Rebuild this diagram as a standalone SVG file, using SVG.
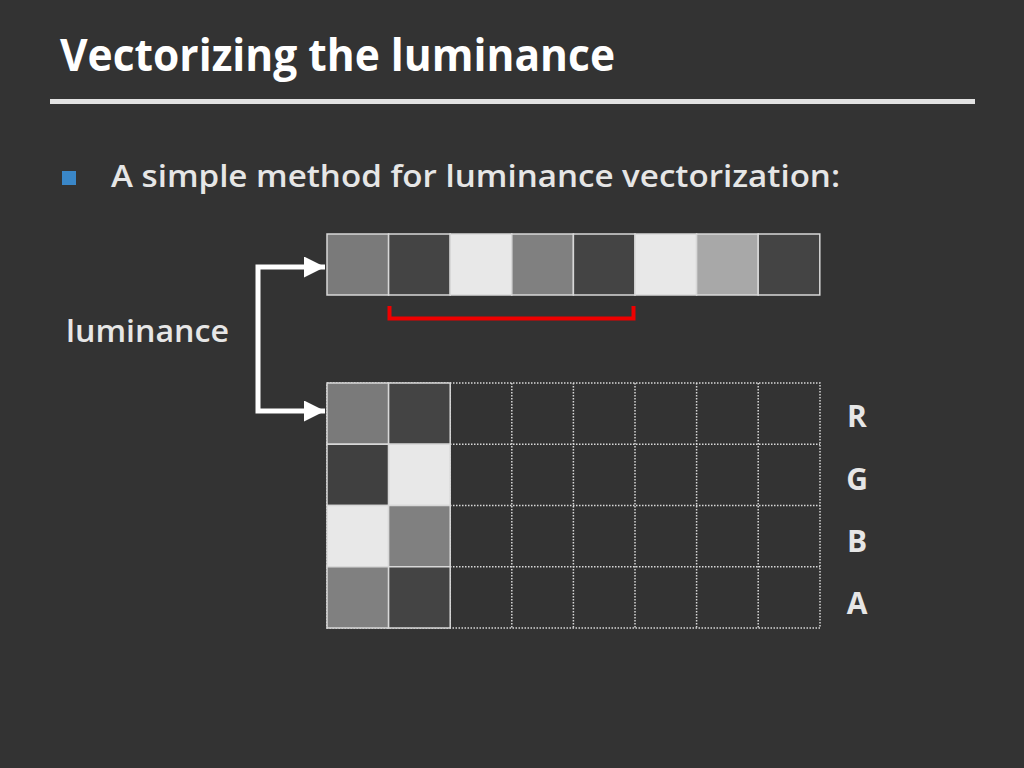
<svg xmlns="http://www.w3.org/2000/svg" width="1024" height="768" viewBox="0 0 1024 768">
<defs>
<style>
.txt{font-family:"Open Sans","Liberation Sans",sans-serif;font-weight:bold;}
.title{fill:#ffffff;font-size:44px;}
.body{fill:#e6e6e6;font-size:31px;font-weight:600;}
.lab{fill:#e6e6e6;font-size:30px;text-anchor:middle;}
.cell{stroke:#d8d8d8;stroke-width:1.5;}
.dot{fill:none;stroke:#d8d8d8;stroke-width:1.5;stroke-dasharray:1.5 1.5;}
.conn{fill:none;stroke:#ffffff;stroke-width:5;}
</style>
<marker id="ah" viewBox="0 0 10 10" refX="10" refY="5" markerWidth="4.2" markerHeight="4.2" markerUnits="strokeWidth" orient="auto-start-reverse">
<path d="M0,0 L10,5 L0,10 Z" fill="#ffffff"/>
</marker>
</defs>
<rect width="1024" height="768" fill="#333333"/>
<g id="title">
<text class="txt title" x="60" y="71" textLength="555" lengthAdjust="spacingAndGlyphs">Vectorizing the luminance</text>
<rect x="50" y="99" width="925" height="5" fill="#e2e2e2"/>
</g>
<g id="bullet">
<rect x="62" y="171" width="14" height="14" fill="#3a87c8"/>
<text class="txt body" x="111" y="187" textLength="729" lengthAdjust="spacingAndGlyphs">A simple method for luminance vectorization:</text>
</g>
<g id="luminance-label">
<text class="txt body" x="66" y="342" textLength="163" lengthAdjust="spacingAndGlyphs">luminance</text>
</g>
<g id="connectors">
<polyline class="conn" points="325,267 258,267 258,411 325,411" marker-start="url(#ah)" marker-end="url(#ah)"/>
</g>
<g id="vector-row">
<rect class="cell" x="327" y="234" width="61.6" height="61" fill="#7a7a7a"/>
<rect class="cell" x="388.6" y="234" width="61.6" height="61" fill="#444444"/>
<rect class="cell" x="450.2" y="234" width="61.6" height="61" fill="#e8e8e8"/>
<rect class="cell" x="511.8" y="234" width="61.6" height="61" fill="#808080"/>
<rect class="cell" x="573.4" y="234" width="61.6" height="61" fill="#444444"/>
<rect class="cell" x="635" y="234" width="61.6" height="61" fill="#e8e8e8"/>
<rect class="cell" x="696.6" y="234" width="61.6" height="61" fill="#a8a8a8"/>
<rect class="cell" x="758.2" y="234" width="61.6" height="61" fill="#444444"/>
</g>
<g id="bracket">
<polyline points="389.5,306 389.5,318.5 633.5,318.5 633.5,306" fill="none" stroke="#ee0000" stroke-width="4"/>
</g>
<g id="rgba-grid">
<g id="empty-cells">
<rect class="dot" x="327" y="383" width="493" height="245"/>
<line class="dot" x1="450.2" y1="383" x2="450.2" y2="628"/>
<line class="dot" x1="511.8" y1="383" x2="511.8" y2="628"/>
<line class="dot" x1="573.4" y1="383" x2="573.4" y2="628"/>
<line class="dot" x1="635" y1="383" x2="635" y2="628"/>
<line class="dot" x1="696.6" y1="383" x2="696.6" y2="628"/>
<line class="dot" x1="758.2" y1="383" x2="758.2" y2="628"/>
<line class="dot" x1="450" y1="444.25" x2="820" y2="444.25"/>
<line class="dot" x1="450" y1="505.5" x2="820" y2="505.5"/>
<line class="dot" x1="450" y1="566.75" x2="820" y2="566.75"/>
</g>
<g id="filled-cells">
<rect class="cell" x="327" y="383" width="61.6" height="61.25" fill="#7a7a7a"/>
<rect class="cell" x="388.6" y="383" width="61.6" height="61.25" fill="#444444"/>
<rect class="cell" x="327" y="444.25" width="61.6" height="61.25" fill="#404040"/>
<rect class="cell" x="388.6" y="444.25" width="61.6" height="61.25" fill="#e8e8e8"/>
<rect class="cell" x="327" y="505.5" width="61.6" height="61.25" fill="#e8e8e8"/>
<rect class="cell" x="388.6" y="505.5" width="61.6" height="61.25" fill="#808080"/>
<rect class="cell" x="327" y="566.75" width="61.6" height="61.25" fill="#808080"/>
<rect class="cell" x="388.6" y="566.75" width="61.6" height="61.25" fill="#444444"/>
</g>
</g>
<g id="channel-labels">
<text class="txt lab" x="857" y="427">R</text>
<text class="txt lab" x="857" y="490">G</text>
<text class="txt lab" x="857" y="552">B</text>
<text class="txt lab" x="857" y="614">A</text>
</g>
</svg>
